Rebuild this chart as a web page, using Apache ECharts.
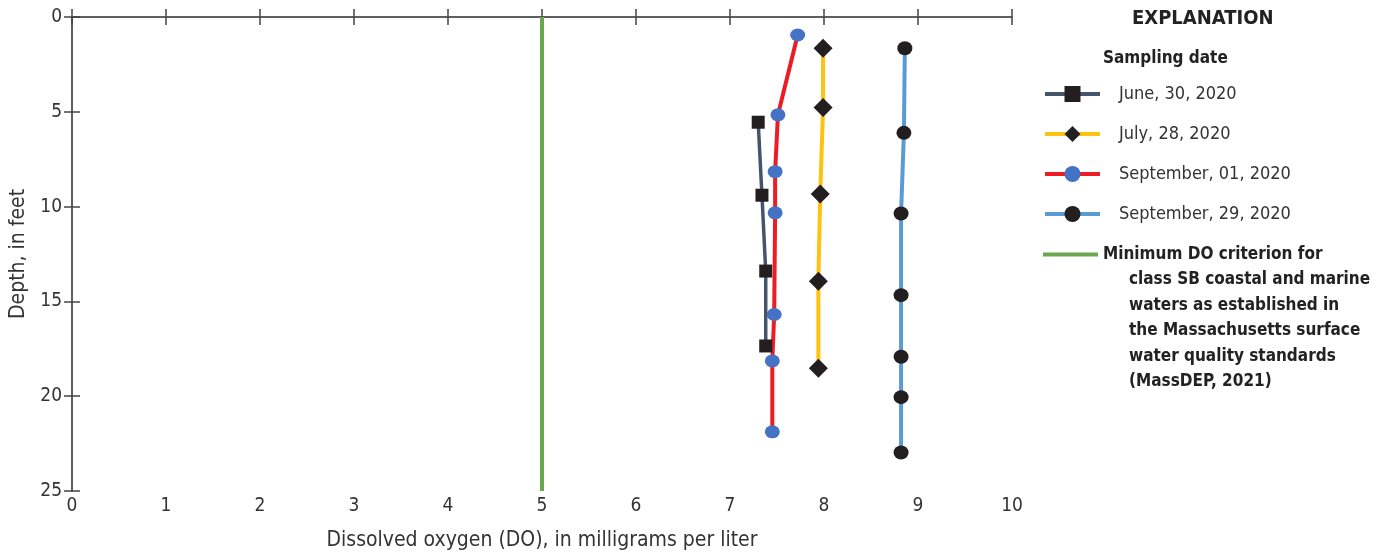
<!DOCTYPE html>
<html>
<head>
<meta charset="utf-8">
<script src="https://cdn.jsdelivr.net/npm/echarts@6/dist/echarts.min.js"></script>
<style>
  html, body { margin: 0; padding: 0; background: #fff; }
  #chart { width: 1387px; height: 556px; }
</style>
</head>
<body>
<div id="chart"></div>
<script>
// values (DO in mg/L, depth in feet)
const juneDO = [7.30, 7.34, 7.38, 7.38];
const juneDepth = [5.55, 9.4, 13.4, 17.35];

const julyDO = [7.99, 7.99, 7.96, 7.94, 7.94];
const julyDepth = [1.65, 4.77, 9.34, 13.94, 18.52];

const sep01DO = [7.72, 7.51, 7.48, 7.48, 7.47, 7.45, 7.45];
const sep01Depth = [0.95, 5.16, 8.16, 10.33, 15.69, 18.14, 21.88];

const sep29DO = [8.86, 8.85, 8.82, 8.82, 8.82, 8.82, 8.82];
const sep29Depth = [1.65, 6.11, 10.36, 14.67, 17.92, 20.05, 22.97];

const criterionDO = 5;
const depthRange = [0, 25];

const seriesNames = ["June, 30, 2020", "July, 28, 2020", "September, 01, 2020", "September, 29, 2020"];
const criterionName = "Minimum DO criterion for";
const criterionLines = [
  "class SB coastal and marine",
  "waters as established in",
  "the Massachusetts surface",
  "water quality standards",
  "(MassDEP, 2021)",
];

const FONT = "'Liberation Sans Narrow', 'DejaVu Sans Condensed', sans-serif";
const pairs = (xs, ys) => xs.map((x, i) => [x, ys[i]]);

const chart = echarts.init(document.getElementById("chart"));

const axisLine = { show: true, lineStyle: { color: "#555", width: 1.5 } };
const axisTick = { show: true, inside: true, length: 8, lineStyle: { color: "#444", width: 1.5 } };

const option = {
  animation: false,
  textStyle: { fontFamily: FONT },
  grid: { left: 72, right: 375, top: 17, bottom: 60 },
  xAxis: [
    {
      type: "value",
      min: 0,
      max: 10,
      interval: 1,
      name: "Dissolved oxygen (DO), in milligrams per liter",
      nameLocation: "middle",
      nameGap: 39,
      nameTextStyle: { fontSize: 21, color: "#333", fontFamily: FONT },
      axisLine: axisLine,
      axisTick: axisTick,
      axisLabel: { fontSize: 19, color: "#333", margin: 6, fontFamily: FONT },
      splitLine: { show: false },
    },
    {
      type: "value",
      position: "top",
      min: 0,
      max: 10,
      interval: 1,
      axisLine: axisLine,
      axisTick: axisTick,
      axisLabel: { show: false },
      splitLine: { show: false },
    },
  ],
  yAxis: [
    {
      type: "value",
      inverse: true,
      min: depthRange[0],
      max: depthRange[1],
      interval: 5,
      name: "Depth, in feet",
      nameLocation: "middle",
      nameGap: 42,
      nameTextStyle: { fontSize: 21, color: "#333", fontFamily: FONT },
      axisLine: axisLine,
      axisTick: axisTick,
      axisLabel: { fontSize: 19, color: "#333", margin: 10, fontFamily: FONT },
      splitLine: { show: false },
    },
    {
      type: "value",
      inverse: true,
      position: "right",
      min: depthRange[0],
      max: depthRange[1],
      interval: 5,
      axisLine: axisLine,
      axisTick: axisTick,
      axisLabel: { show: false },
      splitLine: { show: false },
    },
  ],
  legend: [
    {
      orient: "vertical",
      left: 1038,
      top: 80,
      itemWidth: 55,
      itemHeight: 20,
      itemGap: 22,
      data: seriesNames,
      lineStyle: { width: 4 },
      textStyle: { fontSize: 18, color: "#333", padding: [0, 0, 0, 14], fontFamily: FONT },
    },
    {
      orient: "vertical",
      left: 1038,
      top: 241,
      itemWidth: 55,
      itemHeight: 4,
      icon: "rect",
      data: [criterionName],
      textStyle: { fontSize: 17, color: "#222", fontWeight: "bold", padding: [0, 0, 0, 0], fontFamily: FONT },
    },
  ],
  graphic: [
    {
      type: "text",
      left: 1132,
      top: 9,
      style: { text: "EXPLANATION", font: "bold 20px " + FONT, fill: "#222" },
    },
    {
      type: "text",
      left: 1103,
      top: 50,
      style: { text: "Sampling date", font: "bold 17px " + FONT, fill: "#222" },
    },
    {
      type: "text",
      left: 1129,
      top: 267,
      style: {
        text: criterionLines.join("\n"),
        font: "bold 17px " + FONT,
        fill: "#222",
        lineHeight: 25.5,
      },
    },
  ],
  series: [
    {
      name: criterionName,
      type: "line",
      data: [[criterionDO, depthRange[0]], [criterionDO, depthRange[1]]],
      symbol: "none",
      lineStyle: { color: "#6aa84f", width: 4 },
      itemStyle: { color: "#6aa84f" },
      z: 1,
    },
    {
      name: seriesNames[0],
      type: "line",
      data: pairs(juneDO, juneDepth),
      symbol: "rect",
      symbolSize: 13,
      lineStyle: { color: "#44546a", width: 3.5 },
      itemStyle: { color: "#231f20", borderWidth: 0 },
    },
    {
      name: seriesNames[1],
      type: "line",
      data: pairs(julyDO, julyDepth),
      symbol: "diamond",
      symbolSize: [19, 19],
      lineStyle: { color: "#ffc20e", width: 4 },
      itemStyle: { color: "#231f20", borderWidth: 0 },
    },
    {
      name: seriesNames[2],
      type: "line",
      data: pairs(sep01DO, sep01Depth),
      symbol: "circle",
      symbolSize: [15, 13],
      lineStyle: { color: "#ed1c24", width: 4 },
      itemStyle: { color: "#4472c4", borderWidth: 0 },
    },
    {
      name: seriesNames[3],
      type: "line",
      data: pairs(sep29DO, sep29Depth),
      symbol: "circle",
      symbolSize: [15, 14],
      lineStyle: { color: "#5b9bd5", width: 4 },
      itemStyle: { color: "#231f20", borderWidth: 0 },
    },
  ],
};

chart.setOption(option);
</script>
</body>
</html>
